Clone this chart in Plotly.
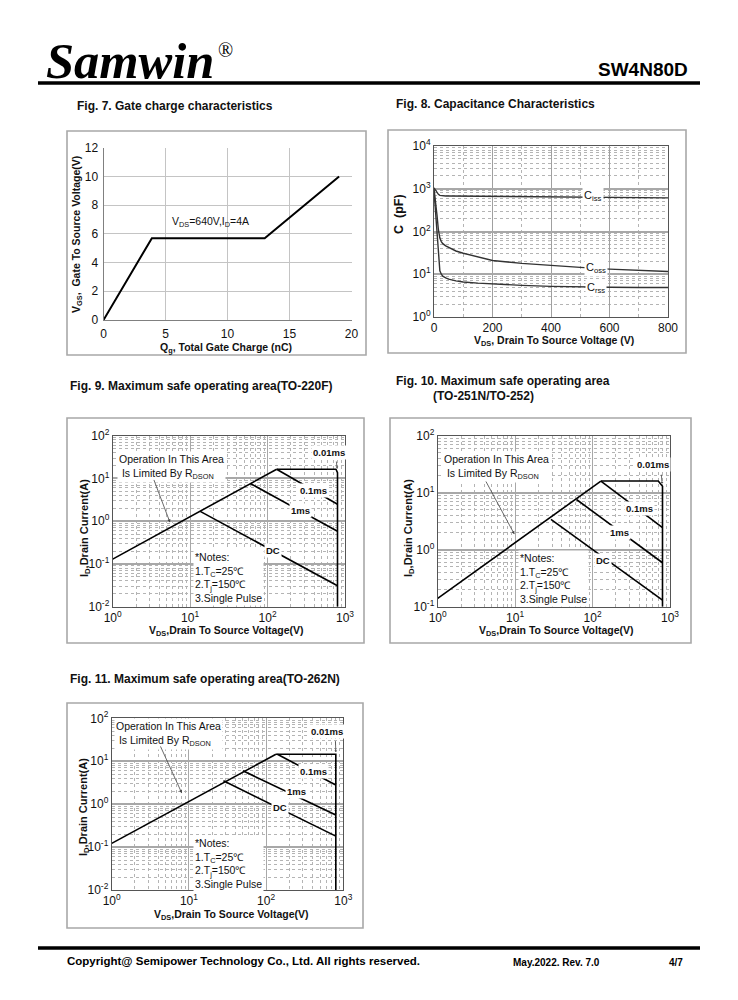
import math
import plotly.graph_objects as go

# Page is 738x1000; the HTML body keeps an 8px margin, so the figure itself is 722x984
PAGE_M = 8
W, H = 738 - 2 * PAGE_M, 1000 - 2 * PAGE_M
def fx(p): return (p - PAGE_M) / W
def fy(p): return 1 - (p - PAGE_M) / H
L = math.log10

# ---------------- data ----------------
# Fig 7 gate charge
gate_charge_nc = [0, 3.9, 13.0, 19.0]
gate_voltage_v = [0, 5.7, 5.7, 10.0]
fig7_x_ticks = [0, 5, 10, 15, 20]
fig7_y_ticks = [0, 2, 4, 6, 8, 10, 12]

# Fig 8 capacitance
cap_vds = [0, 2, 5, 10, 15, 20, 25, 30, 40, 50, 75, 100, 150, 200, 300, 400, 500, 600, 700, 800]
ciss_pf = [1050, 1000, 900, 800, 740, 700, 690, 680, 678, 676, 674, 672, 670, 668, 665, 660, 645, 630, 618, 611]
coss_pf = [1000, 800, 500, 250, 110, 70, 58, 52, 46, 42, 35, 31, 25, 21, 18, 16, 14.5, 13.2, 12.2, 11.6]
crss_pf = [900, 600, 300, 100, 30, 12, 10, 9, 8.2, 7.7, 7.0, 6.6, 6.2, 5.9, 5.5, 5.2, 5.0, 4.95, 4.9, 4.9]
fig8_x_ticks = [0, 200, 400, 600, 800]
fig8_y_tickvals = [1, 10, 100, 1000, 10000]
fig8_y_ticktext = ["10<sup>0</sup>", "10<sup>1</sup>", "10<sup>2</sup>", "10<sup>3</sup>", "10<sup>4</sup>"]

# SOA tick labels
soa_x_tickvals = [1, 10, 100, 1000]
soa_x_ticktext = ["10<sup>0</sup>", "10<sup>1</sup>", "10<sup>2</sup>", "10<sup>3</sup>"]
soa_y_tickvals_4 = [0.01, 0.1, 1, 10, 100]
soa_y_ticktext_4 = ["10<sup>-2</sup>", "10<sup>-1</sup>", "10<sup>0</sup>", "10<sup>1</sup>", "10<sup>2</sup>"]
soa_y_tickvals_3 = [0.1, 1, 10, 100]
soa_y_ticktext_3 = ["10<sup>-1</sup>", "10<sup>0</sup>", "10<sup>1</sup>", "10<sup>2</sup>"]

# Fig 9 SOA TO-220F
f9_rds_v = [1, 131];              f9_rds_a = [0.13, 16.4]
f9_10us_v = [131, 765, 800, 800]; f9_10us_a = [16.4, 16.4, 13.6, 0.01]
f9_100us_v = [131, 800];          f9_100us_a = [16.4, 2.5]
f9_1ms_v = [60, 800];             f9_1ms_a = [7.6, 0.58]
f9_dc_v = [13.5, 800];            f9_dc_a = [1.7, 0.031]

# Fig 10 SOA TO-251N/TO-252
f10_rds_v = [1, 128];              f10_rds_a = [0.14, 16.0]
f10_10us_v = [128, 705, 800, 800]; f10_10us_a = [16.0, 16.0, 13.0, 0.1]
f10_100us_v = [128, 800];          f10_100us_a = [16.0, 2.45]
f10_1ms_v = [62, 800];             f10_1ms_a = [7.6, 0.59]
f10_dc_v = [29, 800];              f10_dc_a = [3.4, 0.13]

# Fig 11 SOA TO-262N
f11_rds_v = [1, 134];             f11_rds_a = [0.122, 14.5]
f11_10us_v = [134, 800, 800];     f11_10us_a = [14.5, 14.5, 0.01]
f11_100us_v = [140, 800];         f11_100us_a = [14.5, 2.8]
f11_1ms_v = [50, 800];            f11_1ms_a = [6.0, 0.56]
f11_dc_v = [28, 800];             f11_dc_a = [3.5, 0.18]

FONT = "Liberation Sans"
fig = go.Figure()

def line(x, y, xa, ya, color="black", width=1.8):
    fig.add_trace(go.Scatter(x=x, y=y, mode="lines", xaxis=xa, yaxis=ya,
                             line=dict(color=color, width=width), hoverinfo="skip"))

# Fig 7
line(gate_charge_nc, gate_voltage_v, "x", "y", width=2)
# Fig 8
for c in (ciss_pf, coss_pf, crss_pf):
    line(cap_vds, c, "x2", "y2", color="#333333", width=1.4)
# SOA
for xa, ya, sets in (
    ("x3", "y3", [(f9_rds_v, f9_rds_a), (f9_10us_v, f9_10us_a), (f9_100us_v, f9_100us_a), (f9_1ms_v, f9_1ms_a), (f9_dc_v, f9_dc_a)]),
    ("x4", "y4", [(f10_rds_v, f10_rds_a), (f10_10us_v, f10_10us_a), (f10_100us_v, f10_100us_a), (f10_1ms_v, f10_1ms_a), (f10_dc_v, f10_dc_a)]),
    ("x5", "y5", [(f11_rds_v, f11_rds_a), (f11_10us_v, f11_10us_a), (f11_100us_v, f11_100us_a), (f11_1ms_v, f11_1ms_a), (f11_dc_v, f11_dc_a)]),
):
    for xs, ys in sets:
        line(xs, ys, xa, ya, width=1.6)

tickfont = dict(family=FONT, size=12, color="#111")
major_grid = "#a8a8a8"
minor_grid = "#b4b4b4"

def lin_axis(x0, x1, rng, tickvals, anchor, grid="#c4c4c4", mirror=False, linecolor="#808080", minor=None):
    d = dict(domain=[fx(x0), fx(x1)], range=rng, tickmode="array", tickvals=tickvals,
             showgrid=True, gridcolor=grid, gridwidth=1, zeroline=False,
             showline=True, linecolor=linecolor, linewidth=1, mirror=mirror,
             ticks="", tickfont=tickfont, anchor=anchor, fixedrange=True)
    if minor:
        d["minor"] = minor
    return d

def log_axis_x(x0, x1, rng, tickvals, ticktext, anchor):
    return dict(type="log", domain=[fx(x0), fx(x1)], range=rng, tickmode="array",
                tickvals=tickvals, ticktext=ticktext, showgrid=True, gridcolor=major_grid,
                gridwidth=1.3, zeroline=False, showline=True, linecolor="#555", linewidth=1,
                mirror=True, ticks="", tickfont=tickfont, anchor=anchor, ticklabelstandoff=0,
                minor=dict(dtick="D1", showgrid=True, gridcolor=minor_grid, griddash="dot", gridwidth=1, ticks=""))

def log_axis_y(y0, y1, rng, tickvals, ticktext, anchor):
    return dict(type="log", domain=[fy(y1), fy(y0)], range=rng, tickmode="array",
                tickvals=tickvals, ticktext=ticktext, showgrid=True, gridcolor=major_grid,
                gridwidth=1.6, zeroline=False, showline=True, linecolor="#555", linewidth=1,
                mirror=True, ticks="", tickfont=tickfont, anchor=anchor,
                minor=dict(dtick="D1", showgrid=True, gridcolor=minor_grid, griddash="dot", gridwidth=1, ticks=""))

layout = dict(width=W, height=H, margin=dict(l=0, r=0, t=0, b=0, autoexpand=False),
              paper_bgcolor="white", plot_bgcolor="white", showlegend=False,
              font=dict(family=FONT, color="#111"))

# Fig 7 axes
layout["xaxis"] = lin_axis(103.5, 351.5, [0, 20], fig7_x_ticks, "y")
layout["xaxis"]["ticklabelstandoff"] = 3
y7 = lin_axis(0, 1, [0, 12], fig7_y_ticks, "x")
y7["domain"] = [fy(320), fy(147.7)]
y7["ticklabelstandoff"] = 2
layout["yaxis"] = y7

# Fig 8 axes
x8 = lin_axis(434, 668, [0, 800], fig8_x_ticks, "y2", grid="#a0a0a0", mirror=True, linecolor="#555",
              minor=dict(dtick=100, showgrid=True, gridcolor=minor_grid, griddash="dot", ticks=""))
x8["ticklabelstandoff"] = 0
layout["xaxis2"] = x8
layout["yaxis2"] = log_axis_y(146, 317, [0, 4], fig8_y_tickvals, fig8_y_ticktext, "x2")

# SOA axes
layout["xaxis3"] = log_axis_x(112.7, 345, [0, 3], soa_x_tickvals, soa_x_ticktext, "y3")
layout["yaxis3"] = log_axis_y(435.7, 606.7, [-2, 2], soa_y_tickvals_4, soa_y_ticktext_4, "x3")
layout["xaxis4"] = log_axis_x(437.7, 670, [0, 3], soa_x_tickvals, soa_x_ticktext, "y4")
layout["yaxis4"] = log_axis_y(435.7, 606.7, [-1, 2], soa_y_tickvals_3, soa_y_ticktext_3, "x4")
layout["xaxis5"] = log_axis_x(111.7, 343.3, [0, 3], soa_x_tickvals, soa_x_ticktext, "y5")
layout["yaxis5"] = log_axis_y(718.3, 890, [-2, 2], soa_y_tickvals_4, soa_y_ticktext_4, "x5")

fig.update_layout(**layout)

shapes = []
def box(x0, y0, x1, y1):
    shapes.append(dict(type="rect", xref="paper", yref="paper", x0=fx(x0), x1=fx(x1),
                       y0=fy(y1), y1=fy(y0), line=dict(color="#a8a8a8", width=1.6), layer="below"))
box(67, 131, 366, 355)
box(388, 130, 686, 353)
box(67, 418, 364, 643)
box(390, 418, 691, 643)
box(67, 703, 363, 928)
for yy in (83, 948):
    shapes.append(dict(type="line", xref="paper", yref="paper", x0=fx(38), x1=fx(700),
                       y0=fy(yy), y1=fy(yy), line=dict(color="black", width=3.5)))
fig.update_layout(shapes=shapes)

ann = []
def ptext(x, y, text, size=12, bold=True, xanchor="left", family=FONT, angle=0, color="#111"):
    t = f"<b>{text}</b>" if bold else text
    ann.append(dict(xref="paper", yref="paper", x=fx(x), y=fy(y), text=t, showarrow=False,
                    xanchor=xanchor, yanchor="middle", textangle=angle,
                    font=dict(family=family, size=size, color=color)))

# Header / footer
ptext(44, 61, "<i>Samwin</i>", size=50.5, family="Liberation Serif", color="black")
ptext(216, 50, "®", size=20, bold=False, family="Liberation Serif", color="black")
ptext(690, 70, "SW4N80D", size=19, xanchor="right", color="black")
ptext(65, 961, "Copyright@ Semipower Technology Co., Ltd. All rights reserved.", size=11.5, color="black")
ptext(511, 962, "May.2022. Rev. 7.0", size=10, color="black")
ptext(685, 962, "4/7", size=10, xanchor="right", color="black")

# Figure titles
ptext(75, 106, "Fig. 7. Gate charge characteristics")
ptext(394, 104, "Fig. 8. Capacitance Characteristics")
ptext(68, 386, "Fig. 9. Maximum safe operating area(TO-220F)")
ptext(394, 381, "Fig. 10. Maximum safe operating area")
ptext(431, 396, "(TO-251N/TO-252)")
ptext(68, 679, "Fig. 11. Maximum safe operating area(TO-262N)")

# Axis titles
ptext(77, 235, "V<sub>GS</sub>,  Gate To Source Voltage(V)", size=10.5, xanchor="center", angle=-90)
ptext(226, 348, "Q<sub>g</sub>, Total Gate Charge (nC)", size=10.5, xanchor="center")
ptext(399, 214, "C  (pF)", size=12.5, xanchor="center", angle=-90)
ptext(554, 341, "V<sub>DS</sub>, Drain To Source Voltage (V)", size=10.5, xanchor="center")
ptext(85, 528, "I<sub>D</sub>,Drain Current(A)", size=11, xanchor="center", angle=-90)
ptext(226, 631, "V<sub>DS</sub>,Drain To Source Voltage(V)", size=10.5, xanchor="center")
ptext(409, 528, "I<sub>D</sub>,Drain Current(A)", size=11, xanchor="center", angle=-90)
ptext(556, 631, "V<sub>DS</sub>,Drain To Source Voltage(V)", size=10.5, xanchor="center")
ptext(84, 807, "I<sub>D</sub>,Drain Current(A)", size=11, xanchor="center", angle=-90)
ptext(231, 915, "V<sub>DS</sub>,Drain To Source Voltage(V)", size=10.5, xanchor="center")

def dtext(xa, ya, x, y, text, size=10, bold=False, xanchor="center", bg=None, logx=False, logy=False):
    t = f"<b>{text}</b>" if bold else text
    d = dict(xref=xa, yref=ya, x=L(x) if logx else x, y=L(y) if logy else y, text=t,
             showarrow=False, xanchor=xanchor, yanchor="middle", align="left",
             font=dict(family=FONT, size=size, color="#111"))
    if bg:
        d["bgcolor"] = bg
        d["borderpad"] = 1
    ann.append(d)

def darrow(xa, ya, hx, hy, tx, ty, head=2, size=0.8, color="#444"):
    ann.append(dict(xref=xa, yref=ya, x=L(hx), y=L(hy), axref=xa, ayref=ya, ax=L(tx), ay=L(ty),
                    text="", showarrow=True, arrowhead=head, arrowsize=size, arrowwidth=0.8,
                    arrowcolor=color))

# Fig 7 note
dtext("x", "y", 8.6, 6.8, "V<sub>DS</sub>=640V,I<sub>D</sub>=4A", size=10.5)

# Fig 8 labels
dtext("x2", "y2", 545, 668, "C<sub>iss</sub>", size=11, bg="white", logy=True)
dtext("x2", "y2", 554, 13.7, "C<sub>oss</sub>", size=11, bg="white", logy=True)
dtext("x2", "y2", 554, 4.7, "C<sub>rss</sub>", size=11, bg="white", logy=True)

notes = "*Notes:<br>1.T<sub>C</sub>=25℃<br>2.T<sub>j</sub>=150℃<br>3.Single Pulse"
oper = "Operation In This Area<br> Is Limited By R<sub>DSON</sub>"

def soa_labels(xa, ya, p10, p100, p1, pdc, op_xy, arr, notes_xy, arr10):
    dtext(xa, ya, p10[0], p10[1], "0.01ms", size=9.5, bold=True, bg="white", logx=True, logy=True)
    dtext(xa, ya, p100[0], p100[1], "0.1ms", size=9.5, bold=True, bg="white", logx=True, logy=True)
    dtext(xa, ya, p1[0], p1[1], "1ms", size=9.5, bold=True, bg="white", logx=True, logy=True)
    dtext(xa, ya, pdc[0], pdc[1], "DC", size=9.5, bold=True, bg="white", logx=True, logy=True)
    dtext(xa, ya, op_xy[0], op_xy[1], oper, size=10.5, xanchor="left", bg="white", logx=True, logy=True)
    darrow(xa, ya, arr[0], arr[1], arr[2], arr[3])
    dtext(xa, ya, notes_xy[0], notes_xy[1], notes, size=10.5, xanchor="left", bg="white", logx=True, logy=True)
    darrow(xa, ya, arr10[0], arr10[1], arr10[2], arr10[3], head=1, size=0.6)

soa_labels("x3", "y3", (630, 40), (390, 5.3), (263, 1.8), (119, 0.21), (1.15, 19),
           (5.5, 0.93, 3.35, 10), (11, 0.048), (790, 17.5, 770, 27))
soa_labels("x4", "y4", (609, 31.4), (398, 5.3), (226, 2.0), (138, 0.64), (1.12, 28.5),
           (9.8, 1.86, 4.1, 16.7), (11, 0.31), (790, 14.5, 770, 22))
soa_labels("x5", "y5", (608, 49), (409, 5.7), (249, 1.95), (150, 0.84), (1.07, 43),
           (8.1, 1.8, 4.2, 24), (11.2, 0.041), (800, 16.5, 790, 32))

fig.update_layout(annotations=ann)
fig.write_html("out.html")
